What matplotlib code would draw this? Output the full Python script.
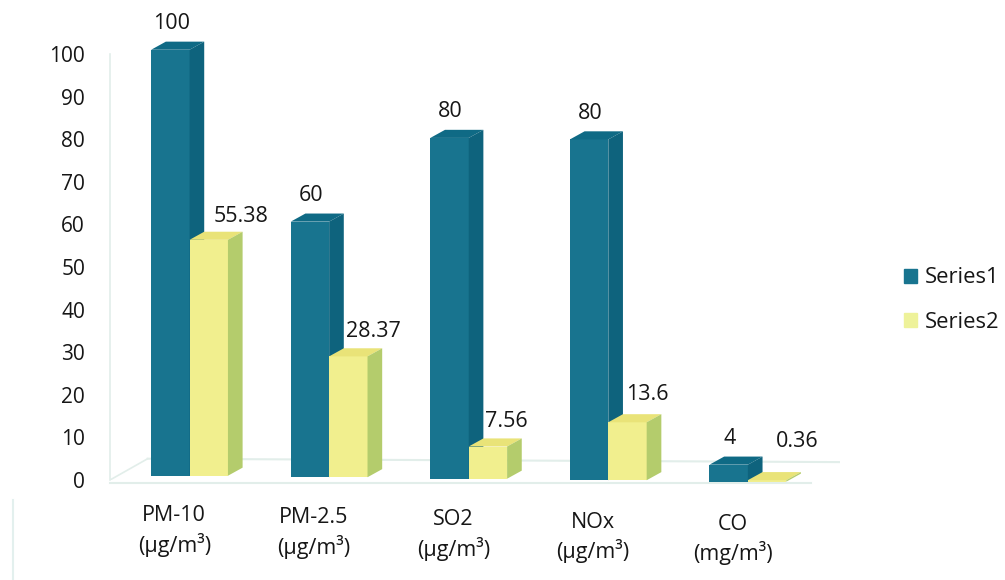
import matplotlib
matplotlib.use('Agg')
import matplotlib.pyplot as plt
from matplotlib.patches import Patch
from matplotlib.transforms import ScaledTranslation

categories = ['PM-10\n(µg/m³)', 'PM-2.5\n(µg/m³)', 'SO2\n(µg/m³)', 'NOx\n(µg/m³)', 'CO\n(mg/m³)']
series1 = [100, 60, 80, 80, 4]
series2 = [55.38, 28.37, 7.56, 13.6, 0.36]
series1_labels = ['100', '60', '80', '80', '4']
series2_labels = ['55.38', '28.37', '7.56', '13.6', '0.36']
yticks = list(range(0, 101, 10))

# pixels, label shift of the yellow bars
label_shift = [32, 25, 18, 20, 30]
label_lift = [15, 17, 17, 20, 31]

BLUE = ('#18748f', '#0f6a85', '#0e637d')
YELLOW = ('#f1ef8e', '#e9e378', '#b4cc6c')
W, H = 1005, 580
bar_w = 0.275
depth_x = 0.105
depth_y = 1.9


def draw_bar(ax, x, base, value, colors, zorder):
    top = base + value
    ax.fill([x, x + bar_w, x + bar_w, x], [base, base, top, top], color=colors[0], lw=0, zorder=zorder, clip_on=False)
    ax.fill([x, x + bar_w, x + bar_w + depth_x, x + depth_x],
            [top, top, top + depth_y, top + depth_y], color=colors[1], lw=0, zorder=zorder, clip_on=False)
    ax.fill([x + bar_w, x + bar_w + depth_x, x + bar_w + depth_x, x + bar_w],
            [base, base + depth_y, top + depth_y, top], color=colors[2], lw=0, zorder=zorder, clip_on=False)


def main():
    plt.rcParams['font.family'] = ['Open Sans', 'DejaVu Sans']
    fig = plt.figure(figsize=(W / 100, H / 100), dpi=100)
    ax = fig.add_axes([110 / W, 1 - 480 / H, 730 / W, 426 / H])
    ax.set_xlim(-0.57, 4.66)
    ax.set_ylim(0, 100)
    for s in ax.spines.values():
        s.set_visible(False)

    # faint floor and wall
    grid = '#e2eeea'
    ax.plot([-0.57, -0.57], [0, 100], color=grid, lw=1.2, clip_on=False)
    ax.plot([-0.57, 4.45], [-0.7, -0.7], color=grid, lw=1.5, clip_on=False)
    ax.plot([-0.57, -0.3], [0, 5], color=grid, lw=1.2)
    ax.plot([-0.3, 4.66], [5, 4.2], color=grid, lw=1.5)

    for i in range(len(categories)):
        base = 1.0 - 0.35 * i
        x1 = i - bar_w
        x2 = i
        draw_bar(ax, x1, base, series1[i], BLUE, 3)
        draw_bar(ax, x2, base, series2[i], YELLOW, 4)
        ax.annotate(series1_labels[i], (x1 + bar_w / 2, base + series1[i] + depth_y),
                    xytext=(1, 18), textcoords='offset pixels', ha='center', va='center',
                    fontsize=15.5, color='#161616', zorder=6, annotation_clip=False)
        ax.annotate(series2_labels[i], (x2 + bar_w / 2, base + series2[i] + depth_y),
                    xytext=(label_shift[i], label_lift[i]), textcoords='offset pixels', ha='center', va='center',
                    fontsize=15.5, color='#161616', zorder=6, annotation_clip=False)

    ax.set_yticks(yticks)
    ax.tick_params(axis='y', length=0, pad=18, labelsize=15, labelcolor='#161616')
    ax.set_xticks([i - 0.11 for i in range(len(categories))])
    ax.set_xticklabels(categories, linespacing=1.35)
    ax.tick_params(axis='x', length=0, pad=18, labelsize=15.5, labelcolor='#161616')
    # scanned page is slightly rotated, labels drift down to the right
    for i, lab in enumerate(ax.get_xticklabels()):
        lab.set_transform(lab.get_transform() + ScaledTranslation(0, -2.2 * i / 100, fig.dpi_scale_trans))

    handles = [Patch(color=BLUE[0], label='Series1'), Patch(color='#eef29a', label='Series2')]
    fig.legend(handles=handles, loc='center left', bbox_to_anchor=(904 / W, 1 - 300 / H), frameon=False,
               fontsize=15.8, handlelength=0.58, handleheight=0.58, handletextpad=0.35,
               labelspacing=1.05, borderpad=0, borderaxespad=0, labelcolor='#161616')

    # edge of the scanned page
    fig.add_artist(plt.Line2D([13 / W, 13 / W], [0, 80 / H], color='#e3f0ee', lw=1.5))

    fig.savefig('out.png', dpi=100)


if __name__ == "__main__":
    main()
